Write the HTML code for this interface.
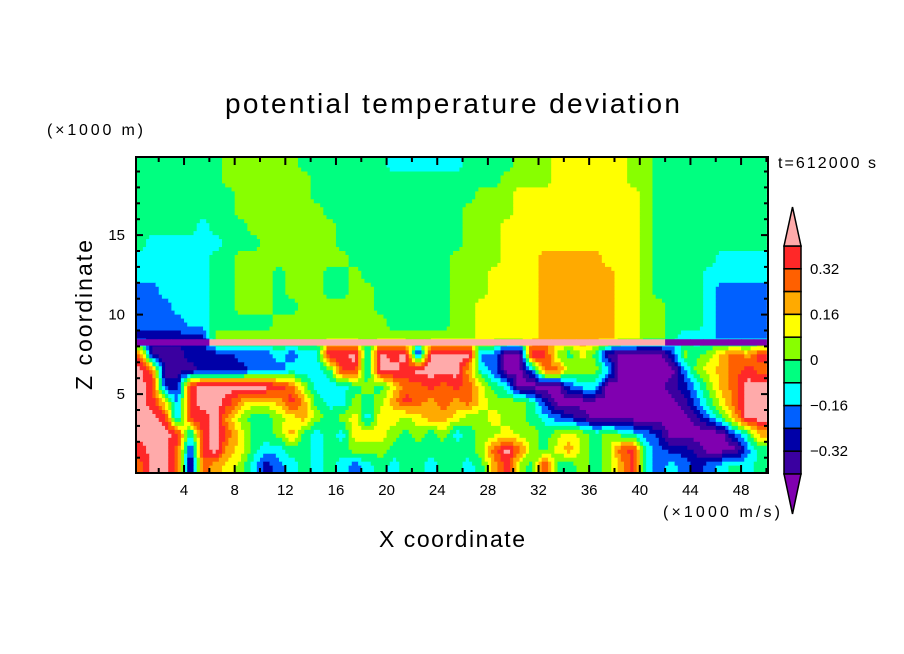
<!DOCTYPE html>
<html><head><meta charset="utf-8"><style>
html,body{margin:0;padding:0;background:#fff;}
svg{display:block;font-family:"Liberation Sans",sans-serif;}
</style></head><body>
<svg id="chart" width="904" height="654" viewBox="0 0 904 654">
<defs><clipPath id="plotclip"><rect x="136" y="157" width="632" height="316"/></clipPath></defs>
<rect width="904" height="654" fill="#fff"/>
<g id="field" clip-path="url(#plotclip)"></g>
<g id="iface" clip-path="url(#plotclip)"></g>
<rect x="136" y="157" width="632" height="316" fill="none" stroke="#000" stroke-width="2"/>
<g id="ticks"></g>
<g id="cbar"></g>
<text x="225" y="113" font-size="28" textLength="455" lengthAdjust="spacing">potential temperature deviation</text>
<text x="47" y="135" font-size="16" textLength="96" lengthAdjust="spacing">(×1000 m)</text>
<text x="778" y="168" font-size="16" textLength="98" lengthAdjust="spacing">t=612000 s</text>
<text x="663" y="517" font-size="16" textLength="117" lengthAdjust="spacing">(×1000 m/s)</text>
<text x="379" y="547" font-size="23" textLength="146" lengthAdjust="spacing">X coordinate</text>
<text transform="translate(92,390) rotate(-90)" font-size="23" textLength="150" lengthAdjust="spacing">Z coordinate</text>
</svg>
<script>
const levelColors=["#8000b0","#3a00a0","#0000a8","#0060ff","#00ffff","#00ff80","#88ff00","#ffff00","#ffaa00","#ff6000","#ff2828","#ffaaaa"];
const fieldRows=[
"5555555666 6665555555 4444445555 6667777776 6555555555",
"5555555666 6666555555 5555555556 6667777776 6555555555",
"5555555566 6666555555 5555555666 7777777777 6555555555",
"5555555566 6666655555 5555556666 7777777777 6555555555",
"5555545556 6666665555 5555556667 7777777777 6555555555",
"5444444555 6666665555 5555556667 7777777777 6555555555",
"4444445566 6666666555 5555566667 7788888777 6555554444",
"4444445566 6566655655 5555566677 7788888877 6555544444",
"3344445566 6566655665 5555566677 7788888877 6555543333",
"3334445566 6556666665 5555566777 7788888877 6655543333",
"3333445555 5666666666 5555566777 7788888877 6655543333",
"2222226666 6666666666 6666666777 7788888877 6654443333",
"9111222233 34344bab4b ab2bbbb330 0ba6575100 002656898a",
"b911122223 334445aa4b babbbb8430 0399666400 00036789a9",
"ba22abbbbb ba96444565 799a9a9754 0000344000 00124689bb",
"ba73abba87 78a8544656 8a98989766 6520000000 00013579bb",
"bba3aab865 5678656747 7678876676 6543210000 00001358bb",
"bbba4ab975 5685454777 6565645667 6656765654 3200000358",
"abb92ab875 4455455666 555555569b 965786569a 4322100035",
"9bb9198764 2345454345 455455458a 65a556568a 4343234545"
];
const interfaceRow="000000bbbb bbbbbbbbbb bbbbbbbbbb bbbbbbbbbb bb00000000";
const xTicks=[4,8,12,16,20,24,28,32,36,40,44,48];
const yTicks=[5,10,15];
const cbLabels=["0.32","0.16","0","\u22120.16","\u22120.32"];
const cbValues=[0.32,0.16,0,-0.16,-0.32];

const NS="http://www.w3.org/2000/svg";
function xs(v){return 133.4+v*12.66;}
function zs(v){return 473.6-v*15.9;}
function cy(v){return 360-v/0.08*22.8;}
const grid=fieldRows.map(r=>r.replace(/ /g,'').split('').map(ch=>parseInt(ch,16)));
const nR=grid.length,nC=grid[0].length;
function sample(x,z){
  let cf=x-0.5, rf=(nR-0.5)-z;
  cf=Math.max(0,Math.min(nC-1,cf)); rf=Math.max(0,Math.min(nR-1,rf));
  const c0=Math.floor(cf),r0=Math.floor(rf),c1=Math.min(nC-1,c0+1),r1=Math.min(nR-1,r0+1);
  const fx=cf-c0,fz=rf-r0;
  const v=grid[r0][c0]*(1-fx)*(1-fz)+grid[r0][c1]*fx*(1-fz)+grid[r1][c0]*(1-fx)*fz+grid[r1][c1]*fx*fz;
  return Math.round(v);
}
const field=document.getElementById('field');
const S=4;
for(let j=0;j<nR*S;j++){
  const zTop=nR-j/S, zBot=nR-(j+1)/S, zc=(zTop+zBot)/2;
  let runStart=0,runVal=sample(0.5/S,zc);
  for(let i=1;i<=nC*S;i++){
    const v=i<nC*S?sample((i+0.5)/S,zc):-1;
    if(v!==runVal){
      const el=document.createElementNS(NS,'rect');
      el.setAttribute('x',xs(runStart/S));el.setAttribute('y',zs(zTop));
      el.setAttribute('width',xs(i/S)-xs(runStart/S)+0.5);el.setAttribute('height',zs(zBot)-zs(zTop)+0.5);
      el.setAttribute('fill',levelColors[runVal]);
      
      
      field.appendChild(el);
      runStart=i;runVal=v;
    }
  }
}
const iface=document.getElementById('iface');
const irow=interfaceRow.replace(/ /g,'').split('').map(ch=>parseInt(ch,16));
irow.forEach((v,c)=>{
  const el=document.createElementNS(NS,'rect');
  el.setAttribute('x',xs(c));el.setAttribute('y',zs(8.45));
  el.setAttribute('width',xs(c+1)-xs(c)+0.5);el.setAttribute('height',zs(8.05)-zs(8.45));
  el.setAttribute('fill',levelColors[v]);
  
  
  iface.appendChild(el);
});
const ticks=document.getElementById('ticks');
function line(x1,y1,x2,y2,w,name){
  const l=document.createElementNS(NS,'line');
  l.setAttribute('x1',x1);l.setAttribute('y1',y1);l.setAttribute('x2',x2);l.setAttribute('y2',y2);
  l.setAttribute('stroke','#000');l.setAttribute('stroke-width',w);
  
  
  ticks.appendChild(l);
}
function txt(parent,x,y,s,anchor,name){
  const t=document.createElementNS(NS,'text');
  t.setAttribute('x',x);t.setAttribute('y',y);t.setAttribute('font-size','15');
  t.setAttribute('text-anchor',anchor);t.textContent=s;
  
  
  parent.appendChild(t);
}
for(let v=2;v<=50;v+=2){
  const major=xTicks.includes(v), L=major?8:5;
  line(xs(v),473,xs(v),473-L,2,'x-tick');
  line(xs(v),157,xs(v),157+L,2,'x-tick-top');
}
xTicks.forEach(v=>txt(ticks,xs(v),495,String(v),'middle','x-tick-label'));
for(let v=1;v<=19;v++){
  const major=yTicks.includes(v), L=major?7:4;
  line(136,zs(v),136+L,zs(v),2,'y-tick');
  line(768,zs(v),768-L,zs(v),2,'y-tick-right');
}
yTicks.forEach(v=>txt(ticks,125,zs(v)+5,String(v),'end','y-tick-label'));
const cbar=document.getElementById('cbar');
const cbX=784,cbW=17;
for(let k=1;k<=10;k++){
  const hi=0.4-(k-1)*0.08, lo=hi-0.08;
  const el=document.createElementNS(NS,'rect');
  el.setAttribute('x',cbX);el.setAttribute('y',cy(hi));el.setAttribute('width',cbW);el.setAttribute('height',cy(lo)-cy(hi));
  el.setAttribute('fill',levelColors[11-k]);el.setAttribute('stroke','#000');el.setAttribute('stroke-width','1.5');
  
  
  cbar.appendChild(el);
}
const tri1=document.createElementNS(NS,'polygon');
tri1.setAttribute('points',`${cbX},${cy(0.4)} ${cbX+cbW},${cy(0.4)} ${cbX+cbW/2},207`);
tri1.setAttribute('fill',levelColors[11]);tri1.setAttribute('stroke','#000');tri1.setAttribute('stroke-width','1.5');


cbar.appendChild(tri1);
const tri2=document.createElementNS(NS,'polygon');
tri2.setAttribute('points',`${cbX},${cy(-0.4)} ${cbX+cbW},${cy(-0.4)} ${cbX+cbW/2},514`);
tri2.setAttribute('fill',levelColors[0]);tri2.setAttribute('stroke','#000');tri2.setAttribute('stroke-width','1.5');


cbar.appendChild(tri2);
cbValues.forEach((v,i)=>txt(cbar,810,cy(v)+5,cbLabels[i],'start','colorbar-label'));
</script>
</body></html>
